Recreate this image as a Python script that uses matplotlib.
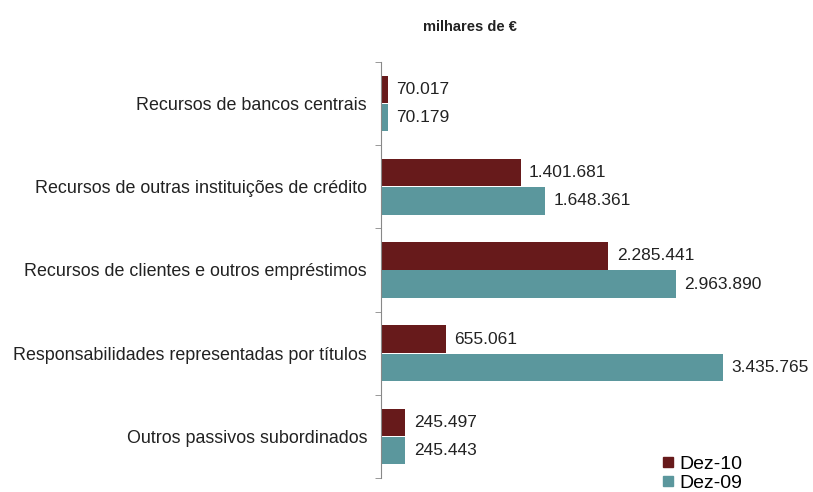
import numpy as np
import matplotlib.pyplot as plt
from matplotlib.ticker import FixedLocator

plt.rcParams['font.family'] = ['Liberation Sans', 'DejaVu Sans']

# data (milhares de €)
categories = ['Recursos de bancos centrais',
              'Recursos de outras instituições de crédito',
              'Recursos de clientes e outros empréstimos',
              'Responsabilidades representadas por títulos',
              'Outros passivos subordinados']
dez10 = [70017, 1401681, 2285441, 655061, 245497]
dez09 = [70179, 1648361, 2963890, 3435765, 245443]
series_names = ['Dez-10', 'Dez-09']

col10 = '#671a1b'
col09 = '#5b979d'

def fmt(v):
    return f'{v:,}'.replace(',', '.')

fig = plt.figure(figsize=(8.13, 4.92), dpi=100)
ax = fig.add_axes([0.4686, 0.0285, 0.5154, 0.8455])

y = np.arange(len(categories))
h = 0.33
b10 = ax.barh(y - 0.17, dez10, height=h, color=col10, label=series_names[0])
b09 = ax.barh(y + 0.17, dez09, height=h, color=col09, label=series_names[1])

for bars, vals in ((b10, dez10), (b09, dez09)):
    for bar, v in zip(bars, vals):
        ax.annotate(fmt(v), (bar.get_width(), bar.get_y() + bar.get_height() / 2),
                    xytext=(6, 0), textcoords='offset points',
                    va='center', ha='left', fontsize=12.5, color='#222222')

ax.set_xlim(0, 4209000)
ax.set_ylim(len(categories) - 0.5, -0.5)
ax.set_yticks(y)
ax.set_yticklabels(categories, fontsize=12.9, color='#222222')
ax.yaxis.set_minor_locator(FixedLocator(np.arange(-0.5, len(categories), 1)))
ax.tick_params(axis='y', which='major', length=0, pad=10)
ax.tick_params(axis='y', which='minor', length=4, color='#888888', direction='out')
ax.set_xticks([])
for s in ['top', 'right', 'bottom']:
    ax.spines[s].set_visible(False)
ax.spines['left'].set_color('#888888')

fig.text(0.578, 0.945, 'milhares de €', ha='center', va='center',
         fontsize=10.5, fontweight='bold', color='#222222')

handles = [plt.Line2D([], [], marker='s', linestyle='', color=c, markersize=7)
           for c in (col10, col09)]
fig.legend(handles, series_names, loc='lower right', bbox_to_anchor=(0.935, -0.035),
           frameon=False, fontsize=14, handletextpad=0.1, labelspacing=0.05,
           handlelength=1.0)

fig.savefig('out.png', dpi=100)
